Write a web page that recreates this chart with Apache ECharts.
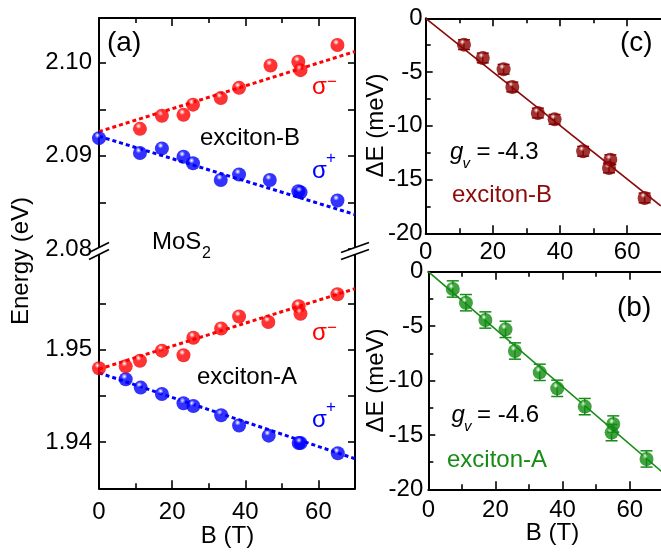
<!DOCTYPE html>
<html><head><meta charset="utf-8">
<script src="https://cdn.jsdelivr.net/npm/echarts@6/dist/echarts.min.js"></script>
<style>html,body{margin:0;padding:0;background:#fff}#c{width:661px;height:554px}</style>
</head><body><div id="c"></div>
<script>
// ---------------- data ----------------
// exciton-B energies (eV)
const bMinusB = [11.2, 17.2, 23.1, 25.7, 33.3, 38.3, 46.9, 54.5, 55.1, 65.2];
const bMinusE = [2.0929, 2.0943, 2.0944, 2.0955, 2.0962, 2.0973, 2.0997, 2.1001, 2.0992, 2.1019];
const bPlusB  = [0, 11.2, 17.2, 23.1, 25.7, 33.3, 38.3, 46.7, 54.5, 55.1, 65.2];
const bPlusE  = [2.0919, 2.0903, 2.0908, 2.0899, 2.0892, 2.0874, 2.0880, 2.0874, 2.0862, 2.0861, 2.0852];
const fitBMinus = [[0, 2.0926], [70, 2.1012]];
const fitBPlus  = [[0, 2.0921], [70, 2.0837]];
// exciton-A energies (eV)
const aMinusB = [0, 7.3, 11.2, 17.2, 23.1, 25.8, 33.4, 38.3, 46.3, 54.6, 55.1, 65.2];
const aMinusE = [1.9480, 1.9482, 1.9488, 1.9499, 1.9494, 1.9513, 1.9523, 1.9536, 1.9530, 1.9547, 1.9539, 1.9560];
const aPlusB  = [7.3, 11.4, 17.2, 23.1, 25.8, 33.4, 38.3, 46.4, 54.6, 55.1, 65.3];
const aPlusE  = [1.9468, 1.9459, 1.9452, 1.9442, 1.9439, 1.9429, 1.9418, 1.9407, 1.9399, 1.9399, 1.9388];
const fitAMinus = [[0, 1.9479], [70, 1.9566]];
const fitAPlus  = [[0, 1.9475], [70, 1.9382]];
// valley splitting (meV)
const dBB   = [11.4, 17.0, 23.2, 25.8, 33.4, 38.4, 46.9, 54.6, 55.0, 65.2];
const dBE   = [-2.45, -3.69, -4.74, -6.39, -8.81, -9.40, -12.37, -13.92, -13.15, -16.71];
const dBErr = [0.45, 0.45, 0.45, 0.45, 0.45, 0.45, 0.45, 0.45, 0.45, 0.45];
const fitDB = [[0, 0], [70, -17.45]];
const dAB   = [7.3, 11.2, 17.0, 23.0, 25.8, 33.2, 38.4, 46.6, 54.6, 55.1, 65.0];
const dAE   = [-1.59, -2.85, -4.44, -5.30, -7.29, -9.25, -10.72, -12.40, -14.79, -14.0, -17.21];
const dAErr = [0.75, 0.75, 0.75, 0.75, 0.75, 0.75, 0.75, 0.75, 0.75, 0.75, 0.75];
const fitDA = [[0, 0], [70, -18.5]];
// ticks
const bMajor = [0, 20, 40, 60];
const bMinor = [10, 30, 50];
const eTopMajor = [2.08, 2.09, 2.10];
const eTopMinor = [2.085, 2.095];
const eBotMajor = [1.94, 1.95];
const eBotMinor = [1.945, 1.955];
const dMajor = [-20, -15, -10, -5, 0];
const dMinor = [-17.5, -12.5, -7.5, -2.5];

// ---------------- styling / layout ----------------
const FONT = '"Liberation Sans", Arial, Helvetica, sans-serif';
const BLACK = '#000';
const RED = '#ff0000', BLUE = '#0000ff', DRED = '#8b0a0a', GREEN = '#168c16';
const zip = (a, b) => a.map((v, i) => [v, b[i]]);
const zip3 = (a, b, c) => a.map((v, i) => [v, b[i], c[i]]);

function sphere(base, light, dark) {
  return {type: 'radial', x: 0.4, y: 0.3, r: 0.75, colorStops: [
    {offset: 0, color: '#ffffff'}, {offset: 0.08, color: light},
    {offset: 0.28, color: base}, {offset: 0.8, color: base}, {offset: 1, color: dark}]};
}

const grids = [
  {left: 99, top: 18, width: 256, height: 231},      // 0: exciton-B energy (upper part of (a))
  {left: 99, top: 249, width: 256, height: 239.3},   // 1: exciton-A energy (lower part of (a))
  {left: 425.7, top: 18.3, width: 235, height: 215}, // 2: (c)
  {left: 428.3, top: 271.7, width: 235, height: 217.6} // 3: (b)
];

const xAxes = [], yAxes = [];
function lineS(w) { return {color: BLACK, width: w}; }
function addAxes(g, c) {
  const bx = {gridIndex: g, type: 'value', min: c.xMin, max: c.xMax, splitLine: {show: false}, silent: true};
  const by = {gridIndex: g, type: 'value', min: c.yMin, max: c.yMax, splitLine: {show: false}, silent: true};
  xAxes.push({...bx, show: c.showBottom, position: 'bottom',
    axisLine: {show: true, onZero: false, lineStyle: lineS(2)},
    axisTick: {show: true, inside: true, length: 8, customValues: bMajor, lineStyle: lineS(1.6)},
    axisLabel: {show: c.xLabels, customValues: bMajor, margin: c.xMargin, color: BLACK, fontSize: 24, fontFamily: FONT}});
  xAxes.push({...bx, show: c.showBottom, position: 'bottom',
    axisLine: {show: false, onZero: false},
    axisTick: {show: true, inside: true, length: 5, customValues: bMinor, lineStyle: lineS(1.6)},
    axisLabel: {show: false}});
  xAxes.push({...bx, show: c.showTop, position: 'top',
    axisLine: {show: true, onZero: false, lineStyle: lineS(2)},
    axisTick: {show: true, inside: true, length: 8, customValues: bMajor, lineStyle: lineS(1.6)},
    axisLabel: {show: false}});
  xAxes.push({...bx, show: c.showTop, position: 'top',
    axisLine: {show: false, onZero: false},
    axisTick: {show: true, inside: true, length: 5, customValues: bMinor, lineStyle: lineS(1.6)},
    axisLabel: {show: false}});
  yAxes.push({...by, position: 'left',
    axisLine: {show: true, onZero: false, lineStyle: lineS(2)},
    axisTick: {show: true, inside: true, length: 7, customValues: c.yMajor, lineStyle: lineS(1.6)},
    axisLabel: {show: true, customValues: c.yLabels, margin: c.yMargin, color: BLACK, fontSize: 24, fontFamily: FONT, formatter: c.yFmt}});
  yAxes.push({...by, position: 'left',
    axisLine: {show: false, onZero: false},
    axisTick: {show: true, inside: true, length: c.yMinLen, customValues: c.yMinor, lineStyle: lineS(1.6)},
    axisLabel: {show: false}});
  yAxes.push({...by, show: c.showRight, position: 'right',
    axisLine: {show: true, onZero: false, lineStyle: lineS(2)},
    axisTick: {show: true, inside: true, length: 7, customValues: c.yMajor, lineStyle: lineS(1.6)},
    axisLabel: {show: false}});
  yAxes.push({...by, show: c.showRight, position: 'right',
    axisLine: {show: false, onZero: false},
    axisTick: {show: true, inside: true, length: c.yMinLen, customValues: c.yMinor, lineStyle: lineS(1.6)},
    axisLabel: {show: false}});
}
const f2 = v => v.toFixed(2);
const f0 = v => String(Math.round(v));
addAxes(0, {xMin: 0, xMax: 70, yMin: 2.08, yMax: 2.1048, showBottom: false, showTop: true, showRight: true, xLabels: false, xMargin: 12,
  yMajor: eTopMajor, yMinor: eTopMinor, yLabels: eTopMajor, yFmt: f2, yMargin: 7, yMinLen: 7});
addAxes(1, {xMin: 0, xMax: 70, yMin: 1.935, yMax: 1.9609, showBottom: true, showTop: false, showRight: true, xLabels: true, xMargin: 12,
  yMajor: eBotMajor, yMinor: eBotMinor, yLabels: eBotMajor, yFmt: f2, yMargin: 7, yMinLen: 7});
addAxes(2, {xMin: 0, xMax: 70, yMin: -20, yMax: 0, showBottom: true, showTop: true, showRight: false, xLabels: true, xMargin: 7,
  yMajor: dMajor, yMinor: dMinor, yLabels: dMajor, yFmt: f0, yMargin: 3, yMinLen: 5});
addAxes(3, {xMin: 0, xMax: 70, yMin: -20, yMax: 0, showBottom: true, showTop: true, showRight: false, xLabels: true, xMargin: 9,
  yMajor: dMajor, yMinor: dMinor, yLabels: dMajor, yFmt: f0, yMargin: 5, yMinLen: 5});

function fitLine(g, data, color, dotted) {
  return {type: 'line', xAxisIndex: 4 * g, yAxisIndex: 4 * g, data, showSymbol: false, symbol: 'none', silent: true,
    clip: true, z: 3, lineStyle: {color, width: dotted ? 3 : 1.6, type: dotted ? [4, 3] : 'solid'}};
}
function dots(g, data, fill, z, size) {
  return {type: 'scatter', xAxisIndex: 4 * g, yAxisIndex: 4 * g, data, symbol: 'circle', symbolSize: size, silent: true,
    z: z, itemStyle: {color: fill}};
}
function errBars(g, data, color) {
  return {type: 'custom', xAxisIndex: 4 * g, yAxisIndex: 4 * g, data, silent: true, z: 4,
    renderItem: function (params, api) {
      const x = api.value(0), y = api.value(1), e = api.value(2);
      const t = api.coord([x, y + e]), b = api.coord([x, y - e]);
      const hw = 6, st = {stroke: color, lineWidth: 1.5};
      return {type: 'group', children: [
        {type: 'line', shape: {x1: t[0], y1: t[1], x2: b[0], y2: b[1]}, style: st},
        {type: 'line', shape: {x1: t[0] - hw, y1: t[1], x2: t[0] + hw, y2: t[1]}, style: st},
        {type: 'line', shape: {x1: b[0] - hw, y1: b[1], x2: b[0] + hw, y2: b[1]}, style: st}]};
    }};
}

const redS = sphere(RED, '#ffc0c0', '#d00000');
const blueS = sphere(BLUE, '#c0c0ff', '#0000c0');
const dredS = sphere('#880000', '#e0b0b0', '#600000');
const greenS = sphere('#108c10', '#b8e8b8', '#0a640a');

const series = [
  fitLine(0, fitBMinus, RED, true), fitLine(0, fitBPlus, BLUE, true),
  dots(0, zip(bMinusB, bMinusE), redS, 5, 14), dots(0, zip(bPlusB, bPlusE), blueS, 6, 14),
  fitLine(1, fitAMinus, RED, true), fitLine(1, fitAPlus, BLUE, true),
  dots(1, zip(aPlusB, aPlusE), blueS, 5, 14), dots(1, zip(aMinusB, aMinusE), redS, 6, 14),
  fitLine(2, fitDB, DRED, false), errBars(2, zip3(dBB, dBE, dBErr), DRED), dots(2, zip(dBB, dBE), dredS, 6, 14),
  fitLine(3, fitDA, GREEN, false), errBars(3, zip3(dAB, dAE, dAErr), GREEN), dots(3, zip(dAB, dAE), greenS, 6, 14)
];

// ---------------- texts & break marks ----------------
function txt(s, x, y, o) {
  o = o || {};
  return {type: 'text', x, y, rotation: o.rot || 0, silent: true, z: 100,
    style: {text: s, fill: o.color || BLACK, fontSize: o.size || 24, fontFamily: FONT, fontStyle: o.italic ? 'italic' : 'normal',
      align: o.align || 'left', verticalAlign: 'middle'}};
}
const graphics = [
  txt('(a)', 107, 43, {size: 28}),
  txt('exciton-B', 200, 138),
  txt('σ', 312, 87, {color: RED}), txt('\u2212', 327, 82, {color: RED, size: 17}),
  txt('σ', 312, 171, {color: BLUE}), txt('+', 326, 158.5, {color: BLUE, size: 17}),
  txt('MoS', 152, 242), txt('2', 202, 254, {size: 16}),
  txt('exciton-A', 197, 377),
  txt('σ', 312, 333, {color: RED}), txt('\u2212', 327, 328, {color: RED, size: 17}),
  txt('σ', 312, 420.5, {color: BLUE}), txt('+', 326, 407.5, {color: BLUE, size: 17}),
  txt('(c)', 620, 43, {size: 28}),
  txt('g', 450, 152, {italic: true}), txt('v', 462.5, 163.5, {italic: true, size: 15}), txt('= -4.3', 476.5, 152),
  txt('exciton-B', 452, 195.5, {color: DRED}),
  txt('(b)', 617, 308, {size: 28}),
  txt('g', 451.5, 415.5, {italic: true}), txt('v', 464, 427, {italic: true, size: 15}), txt('= -4.6', 477, 415),
  txt('exciton-A', 447, 460.5, {color: GREEN}),
  txt('Energy (eV)', 21.5, 261, {rot: Math.PI / 2, align: 'center'}),
  txt('ΔE (meV)', 376, 125.5, {rot: Math.PI / 2, align: 'center'}),
  txt('ΔE (meV)', 376, 380.5, {rot: Math.PI / 2, align: 'center'}),
  txt('B (T)', 227.5, 536.5, {align: 'center'}),
  txt('B (T)', 552.5, 533, {align: 'center'})
];
// axis-break marks on both edges of panel (a)
const breakY = grids[0].top + grids[0].height + 2;
[[grids[0].left, 10], [grids[0].left + grids[0].width, 14]].forEach(function (p) {
  const cx = p[0], hw = p[1], rise = 5, gap = 3.5;
  graphics.push({type: 'polygon', silent: true, z: 90, shape: {points: [
    [cx - hw + 3, breakY - gap + rise * 0.8], [cx + hw - 3, breakY - gap - rise * 0.8],
    [cx + hw - 3, breakY + gap - rise * 0.8], [cx - hw + 3, breakY + gap + rise * 0.8]]},
    style: {fill: '#fff', stroke: null}});
  [-gap, gap].forEach(function (d) {
    graphics.push({type: 'line', silent: true, z: 91,
      shape: {x1: cx - hw, y1: breakY + d + rise, x2: cx + hw, y2: breakY + d - rise},
      style: {stroke: BLACK, lineWidth: 1.8}});
  });
});

const chart = echarts.init(document.getElementById('c'), null, {renderer: 'canvas'});
chart.setOption({
  animation: false,
  backgroundColor: '#fff',
  textStyle: {fontFamily: FONT},
  grid: grids.map(g => Object.assign({containLabel: false, outerBoundsMode: 'none'}, g)),
  xAxis: xAxes,
  yAxis: yAxes,
  series: series,
  graphic: graphics
});
</script>
</body></html>
